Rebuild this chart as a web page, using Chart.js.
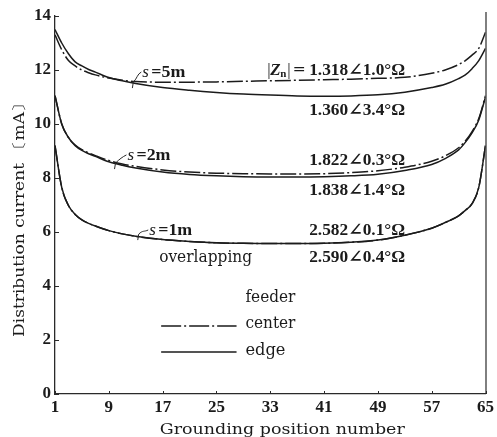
<!DOCTYPE html>
<html>
<head>
<meta charset="utf-8">
<script src="https://cdn.jsdelivr.net/npm/chart.js@4.4.0/dist/chart.umd.min.js"></script>
<style>
  html, body { margin: 0; padding: 0; background: #fff; }
  #wrap { width: 497px; height: 437px; }
</style>
</head>
<body>
<div id="wrap"><canvas id="c" width="497" height="437"></canvas></div>
<script>
// Grounding position numbers at which the currents are given
const positions = [1, 2, 3, 4, 5, 6, 7, 9, 11, 13, 17, 21, 25, 29, 33, 37, 41, 45, 49, 53, 57, 59, 61, 62, 63, 64, 65];

// Distribution current [mA], s = 5 m
const center5 = [13.3, 12.75, 12.35, 12.15, 12.0, 11.9, 11.82, 11.7, 11.62, 11.57, 11.55, 11.55, 11.56, 11.58, 11.6, 11.62, 11.64, 11.66, 11.69, 11.73, 11.88, 12.0, 12.2, 12.35, 12.55, 12.8, 13.4];
const edge5   = [13.5, 13.0, 12.6, 12.3, 12.15, 12.02, 11.92, 11.72, 11.6, 11.5, 11.35, 11.25, 11.17, 11.11, 11.07, 11.04, 11.03, 11.04, 11.08, 11.18, 11.35, 11.47, 11.68, 11.82, 12.05, 12.35, 12.8];

// s = 2 m
const center2 = [11.05, 10.0, 9.5, 9.22, 9.05, 8.93, 8.83, 8.65, 8.52, 8.43, 8.3, 8.22, 8.18, 8.16, 8.15, 8.15, 8.16, 8.2, 8.27, 8.4, 8.62, 8.82, 9.12, 9.37, 9.72, 10.2, 11.05];
const edge2   = [11.05, 10.0, 9.5, 9.2, 9.02, 8.9, 8.8, 8.6, 8.47, 8.37, 8.22, 8.13, 8.08, 8.05, 8.04, 8.04, 8.05, 8.08, 8.14, 8.28, 8.5, 8.72, 9.04, 9.32, 9.67, 10.15, 11.0];

// s = 1 m (the two feeders overlap)
const center1 = [9.2, 7.65, 6.98, 6.65, 6.45, 6.32, 6.22, 6.05, 5.93, 5.84, 5.72, 5.65, 5.6, 5.58, 5.57, 5.57, 5.58, 5.62, 5.7, 5.88, 6.14, 6.35, 6.6, 6.8, 7.05, 7.65, 9.2];
const edge1   = [9.2, 7.65, 6.98, 6.65, 6.45, 6.32, 6.22, 6.05, 5.93, 5.84, 5.72, 5.65, 5.6, 5.58, 5.57, 5.57, 5.58, 5.62, 5.7, 5.88, 6.14, 6.35, 6.6, 6.8, 7.05, 7.65, 9.2];

// Axis ticks
const xTicks = [1, 9, 17, 25, 33, 41, 49, 57, 65];
const yTicks = [0, 2, 4, 6, 8, 10, 12, 14];

// Impedance labels |Zn| for each spacing (center, edge)
const zLabels = ['1.318∠1.0°Ω', '1.360∠3.4°Ω', '1.822∠0.3°Ω', '1.838∠1.4°Ω', '2.582∠0.1°Ω', '2.590∠0.4°Ω'];
const spacingLabels = ['=5m', '=2m', '=1m'];

const INK = '#1b1b1b';
const DASH_DOT = [16, 3, 2, 3];

function pts(vals) { return positions.map((p, i) => ({ x: p, y: vals[i] })); }

function lineSet(label, vals, dashed) {
  return {
    label, data: pts(vals),
    borderColor: INK, borderWidth: 1.5,
    borderDash: dashed ? DASH_DOT : [],
    pointRadius: 0, fill: false,
    cubicInterpolationMode: 'monotone'
  };
}

// Draw text squeezed or stretched horizontally into a given width
function fitText(ctx, text, x, y, width, align) {
  const w = ctx.measureText(text).width;
  const left = align === 'right' ? x - width : (align === 'center' ? x - width / 2 : x);
  ctx.save();
  ctx.translate(left, y);
  ctx.scale(width / w, 1);
  ctx.textAlign = 'left';
  ctx.fillText(text, 0, 0);
  ctx.restore();
}

const SERIF = '"Liberation Serif", "DejaVu Serif", serif';
const WIDE = '"DejaVu Serif", "Liberation Serif", serif';

const decorations = {
  id: 'decorations',
  afterDraw(chart) {
    const ctx = chart.ctx;
    const xs = chart.scales.x, ys = chart.scales.y;
    const area = chart.chartArea;
    const X = v => xs.getPixelForValue(v);
    const Y = v => ys.getPixelForValue(v);

    ctx.save();
    ctx.strokeStyle = '#2a2a2a';
    ctx.fillStyle = INK;

    // right frame line
    ctx.lineWidth = 1.2;
    ctx.beginPath();
    ctx.moveTo(area.right + 0.5, area.top - 4);
    ctx.lineTo(area.right + 0.5, area.bottom);
    ctx.stroke();

    // inward tick marks
    ctx.lineWidth = 1;
    ctx.beginPath();
    yTicks.forEach(v => {
      const y = Math.round(Y(v)) + 0.5;
      ctx.moveTo(area.left, y); ctx.lineTo(area.left + 4, y);
    });
    xTicks.forEach(v => {
      const x = Math.round(X(v)) + 0.5;
      ctx.moveTo(x, area.bottom); ctx.lineTo(x, area.bottom - 3);
    });
    ctx.stroke();

    // axis titles
    ctx.textBaseline = 'alphabetic';
    ctx.font = '15px ' + WIDE;
    fitText(ctx, 'Grounding position number', (area.left + area.right) / 2 + 12, 434, 245, 'center');
    ctx.save();
    ctx.translate(24, 216);
    ctx.rotate(-Math.PI / 2);
    fitText(ctx, 'Distribution current 〔mA〕', 0, 0, 242, 'center');
    ctx.restore();

    // impedance values, right aligned
    const zx = X(53.06);
    const zy = [11.81, 10.33, 8.48, 7.37, 5.89, 4.89];
    ctx.font = 'bold 17px ' + SERIF;
    zLabels.forEach((t, i) => fitText(ctx, t, zx, Y(zy[i]), 96, 'right'));

    // |Zn|= prefix on the first value
    const by = Y(zy[0]);
    const px0 = zx - 138;
    ctx.font = '17px ' + SERIF;
    ctx.fillText('|', px0, by);
    ctx.font = 'italic bold 17px ' + SERIF;
    ctx.fillText('Z', px0 + 3, by);
    ctx.font = 'bold 11px ' + SERIF;
    ctx.fillText('n', px0 + 13, by + 2);
    ctx.font = '17px ' + SERIF;
    ctx.fillText('|', px0 + 20, by);
    ctx.font = 'bold 17px ' + SERIF;
    fitText(ctx, '=', px0 + 26, by, 12, 'left');

    // spacing labels with leaders to the curves
    const sLabels = [
      { x: 13.98, y: 11.74, end: [12.5, 11.33] },
      { x: 11.77, y: 8.67, end: [9.85, 8.33] },
      { x: 15.01, y: 5.89, end: [13.3, 5.7] }
    ];
    sLabels.forEach((s, i) => {
      const lx = X(s.x), ly = Y(s.y);
      ctx.font = 'italic 17px ' + SERIF;
      ctx.fillText('s', lx, ly);
      ctx.font = 'bold 17px ' + SERIF;
      fitText(ctx, spacingLabels[i], lx + 9, ly, 34, 'left');
      const ex = X(s.end[0]), ey = Y(s.end[1]);
      ctx.lineWidth = 1;
      ctx.beginPath();
      ctx.moveTo(lx - 1, ly - 5);
      ctx.bezierCurveTo(lx - 5, ly - 3, ex + 5, ey - 10, ex + 1, ey - 6);
      ctx.lineTo(ex, ey);
      ctx.stroke();
    });

    // "overlapping" note and feeder legend
    ctx.font = '16px ' + WIDE;
    fitText(ctx, 'overlapping', X(16.48), Y(4.89), 93, 'left');
    fitText(ctx, 'feeder', X(29.31), Y(3.41), 50, 'left');
    fitText(ctx, 'center', X(29.31), Y(2.44), 50, 'left');
    fitText(ctx, 'edge', X(29.31), Y(1.44), 40, 'left');

    ctx.lineWidth = 1.5;
    ctx.strokeStyle = INK;
    ctx.setLineDash([20, 3, 2, 3]);
    ctx.beginPath();
    ctx.moveTo(X(16.78), Y(2.52)); ctx.lineTo(X(27.99), Y(2.52));
    ctx.stroke();
    ctx.setLineDash([]);
    ctx.beginPath();
    ctx.moveTo(X(16.78), Y(1.56)); ctx.lineTo(X(27.99), Y(1.56));
    ctx.stroke();

    ctx.restore();
  }
};

const tickFont = { family: SERIF, size: 17, weight: 'bold' };

const chart = new Chart(document.getElementById('c'), {
  type: 'line',
  data: {
    datasets: [
      lineSet('center s=5m', center5, true),
      lineSet('edge s=5m', edge5, false),
      lineSet('center s=2m', center2, true),
      lineSet('edge s=2m', edge2, false),
      lineSet('edge s=1m', edge1, false),
      lineSet('center s=1m', center1, true)
    ]
  },
  options: {
    responsive: false,
    animation: false,
    layout: { padding: { left: 0, top: 16, right: 8, bottom: 0 } },
    plugins: { legend: { display: false }, tooltip: { enabled: false } },
    scales: {
      x: {
        type: 'linear', min: 1, max: 65,
        afterBuildTicks: s => { s.ticks = xTicks.map(v => ({ value: v })); },
        afterFit: s => { s.height = 43; },
        grid: { display: false, drawTicks: false },
        border: { display: true, color: '#2a2a2a', width: 1.3 },
        ticks: { font: tickFont, color: INK, padding: 3, maxRotation: 0, autoSkip: false }
      },
      y: {
        type: 'linear', min: 0, max: 14,
        afterBuildTicks: s => { s.ticks = yTicks.map(v => ({ value: v })); },
        afterFit: s => { s.width = 55; },
        grid: { display: false, drawTicks: false },
        border: { display: true, color: '#2a2a2a', width: 1.3 },
        ticks: { font: tickFont, color: INK, padding: 4 }
      }
    }
  },
  plugins: [decorations]
});
</script>
</body>
</html>
